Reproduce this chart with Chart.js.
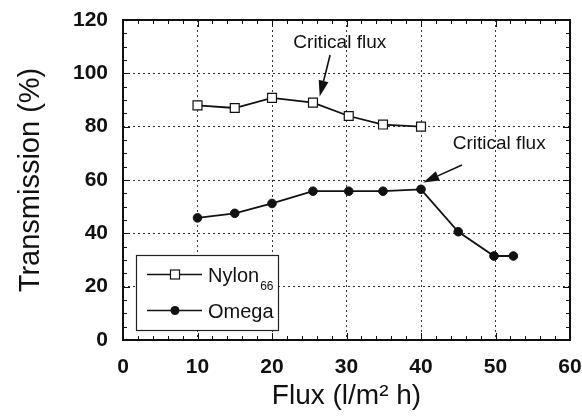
<!DOCTYPE html>
<html><head><meta charset="utf-8">
<script src="https://cdn.jsdelivr.net/npm/chart.js@4"></script>
<style>html,body{margin:0;padding:0;background:#fff}#wrap{width:582px;height:419px}</style>
</head><body><div id="wrap"><canvas id="c" width="582" height="419"></canvas></div>
<script>
// ---- data ----
const nylonFlux = [10, 15, 20, 25.5, 30.3, 34.9, 40];
const nylonTransmission = [88, 87, 90.8, 89, 84, 80.8, 80];
const omegaFlux = [10, 15, 20, 25.5, 30.3, 34.9, 40, 45, 49.8, 52.4];
const omegaTransmission = [45.8, 47.5, 51.2, 55.8, 55.8, 55.8, 56.5, 40.6, 31.5, 31.5];
const xTickValues = [0, 10, 20, 30, 40, 50, 60];
const yTickValues = [0, 20, 40, 60, 80, 100, 120];
const seriesNames = ['Nylon', 'Omega'];
const nylonSubscript = '66';
const xTitle = 'Flux (l/m\u00B2 h)';
const yTitle = 'Transmission (%)';
const annotationText = 'Critical flux';

const toPoints = (xs, ys) => xs.map((x, i) => ({x: x, y: ys[i]}));
const INK = '#111';
const SANS = '"Liberation Sans", Arial, Helvetica, sans-serif';

// annotation geometry in data units
const annotations = [
  {text: annotationText, tx: 29.1, ty: 109.6, from: [27.8, 106.9], to: [26.4, 91.3]},
  {text: annotationText, tx: 50.5, ty: 71.6, from: [45.5, 65.6], to: [40.3, 59.1]}
];

const framePlugin = {
  id: 'frame',
  beforeDatasetsDraw(chart) {
    const {ctx, chartArea: a, scales: {x, y}} = chart;
    ctx.save();
    ctx.strokeStyle = INK;
    ctx.lineWidth = 1;
    ctx.beginPath();
    for (let v = 0; v <= 60; v += 2) {
      const px = Math.round(x.getPixelForValue(v)) + 0.5;
      const len = v % 10 === 0 ? 7 : 4;
      ctx.moveTo(px, a.bottom); ctx.lineTo(px, a.bottom - len);
      ctx.moveTo(px, a.top); ctx.lineTo(px, a.top + len);
    }
    for (let v = 0; v <= 120; v += 5) {
      const py = Math.round(y.getPixelForValue(v)) + 0.5;
      const len = v % 20 === 0 ? 7 : 4;
      ctx.moveTo(a.left, py); ctx.lineTo(a.left + len, py);
      ctx.moveTo(a.right, py); ctx.lineTo(a.right - len, py);
    }
    ctx.stroke();
    ctx.lineWidth = 2;
    ctx.strokeRect(a.left, a.top, a.right - a.left, a.bottom - a.top);
    ctx.restore();
  },
  afterDatasetsDraw(chart) {
    const {ctx, chartArea: a, scales: {x, y}} = chart;
    ctx.save();
    ctx.fillStyle = INK;
    ctx.strokeStyle = INK;
    ctx.font = '19px ' + SANS;
    ctx.textAlign = 'center';
    ctx.textBaseline = 'alphabetic';
    annotations.forEach(an => {
      ctx.fillText(an.text, x.getPixelForValue(an.tx), y.getPixelForValue(an.ty));
      const x1 = x.getPixelForValue(an.from[0]), y1 = y.getPixelForValue(an.from[1]);
      const x2 = x.getPixelForValue(an.to[0]), y2 = y.getPixelForValue(an.to[1]);
      const ang = Math.atan2(y2 - y1, x2 - x1);
      const hl = 16, hw = 5;
      const bx = x2 - hl * Math.cos(ang), by = y2 - hl * Math.sin(ang);
      ctx.lineWidth = 1.6;
      ctx.beginPath(); ctx.moveTo(x1, y1); ctx.lineTo(bx, by); ctx.stroke();
      ctx.beginPath();
      ctx.moveTo(x2, y2);
      ctx.lineTo(bx + hw * Math.sin(ang), by - hw * Math.cos(ang));
      ctx.lineTo(bx - hw * Math.sin(ang), by + hw * Math.cos(ang));
      ctx.closePath(); ctx.fill();
    });
    // legend box
    const L = a.left + 13, T = a.top + 235, R = a.left + 155, B = a.bottom - 10;
    ctx.fillStyle = '#fff';
    ctx.fillRect(L, T, R - L, B - T);
    ctx.strokeStyle = '#222';
    ctx.lineWidth = 1.2;
    ctx.strokeRect(L + 0.5, T + 0.5, R - L, B - T);
    const rows = [T + 19.5, T + 55.5];
    const lx1 = L + 11, lx2 = L + 66, mx = L + 39;
    const ds = chart.data.datasets;
    rows.forEach((ry, i) => {
      ctx.strokeStyle = INK; ctx.lineWidth = 1.4;
      ctx.beginPath(); ctx.moveTo(lx1, ry); ctx.lineTo(lx2, ry); ctx.stroke();
      if (ds[i].pointStyle === 'rect') {
        ctx.fillStyle = '#fff'; ctx.fillRect(mx - 4.5, ry - 4.5, 9, 9);
        ctx.lineWidth = 1.2; ctx.strokeRect(mx - 4.5, ry - 4.5, 9, 9);
      } else {
        ctx.fillStyle = INK; ctx.beginPath(); ctx.arc(mx, ry, 4.5, 0, Math.PI * 2); ctx.fill();
      }
      ctx.fillStyle = INK;
      ctx.textAlign = 'left'; ctx.textBaseline = 'alphabetic';
      ctx.font = '20px ' + SANS;
      ctx.fillText(seriesNames[i], L + 72, ry + 7);
      if (i === 0) {
        const w = ctx.measureText(seriesNames[i]).width;
        ctx.font = '12px ' + SANS;
        ctx.fillText(nylonSubscript, L + 72 + w + 1, ry + 15);
      }
    });
    ctx.restore();
  }
};

new Chart(document.getElementById('c'), {
  type: 'line',
  data: {
    datasets: [
      {
        label: seriesNames[0] + nylonSubscript,
        data: toPoints(nylonFlux, nylonTransmission),
        borderColor: INK, borderWidth: 1.8,
        pointStyle: 'rect', pointRadius: 6.3,
        pointBackgroundColor: '#fff', pointBorderColor: INK, pointBorderWidth: 1.2,
        tension: 0
      },
      {
        label: seriesNames[1],
        data: toPoints(omegaFlux, omegaTransmission),
        borderColor: INK, borderWidth: 1.8,
        pointStyle: 'circle', pointRadius: 4.3,
        pointBackgroundColor: INK, pointBorderColor: INK, pointBorderWidth: 1,
        tension: 0
      }
    ]
  },
  options: {
    responsive: false,
    animation: false,
    devicePixelRatio: 1,
    layout: {padding: {top: 20, right: 12, left: 0, bottom: 0}},
    plugins: {legend: {display: false}, tooltip: {enabled: false}},
    scales: {
      x: {
        type: 'linear', min: 0, max: 60,
        afterBuildTicks: s => { s.ticks = xTickValues.map(v => ({value: v})); },
        afterFit: s => { s.height = 79; s.paddingLeft = 0; s.paddingRight = 0; },
        grid: {color: '#333', lineWidth: 1, drawTicks: false},
        border: {display: false, dash: [2, 3]},
        ticks: {color: INK, padding: 15, font: {family: SANS, size: 21, weight: 'bold'}, maxRotation: 0},
        title: {display: true, text: xTitle, color: INK, font: {family: SANS, size: 28, lineHeight: 1}, padding: {top: 0, bottom: 9}}
      },
      y: {
        type: 'linear', min: 0, max: 120,
        afterBuildTicks: s => { s.ticks = yTickValues.map(v => ({value: v})); },
        afterFit: s => { s.width = 123; s.paddingTop = 0; s.paddingBottom = 0; },
        grid: {color: '#333', lineWidth: 1, drawTicks: false},
        border: {display: false, dash: [2, 3]},
        ticks: {color: INK, padding: 15, font: {family: SANS, size: 21, weight: 'bold'}},
        title: {display: true, text: yTitle, color: INK, font: {family: SANS, size: 29, lineHeight: 1}, padding: {top: 16, bottom: 0}}
      }
    }
  },
  plugins: [framePlugin]
});
</script>
</body></html>
